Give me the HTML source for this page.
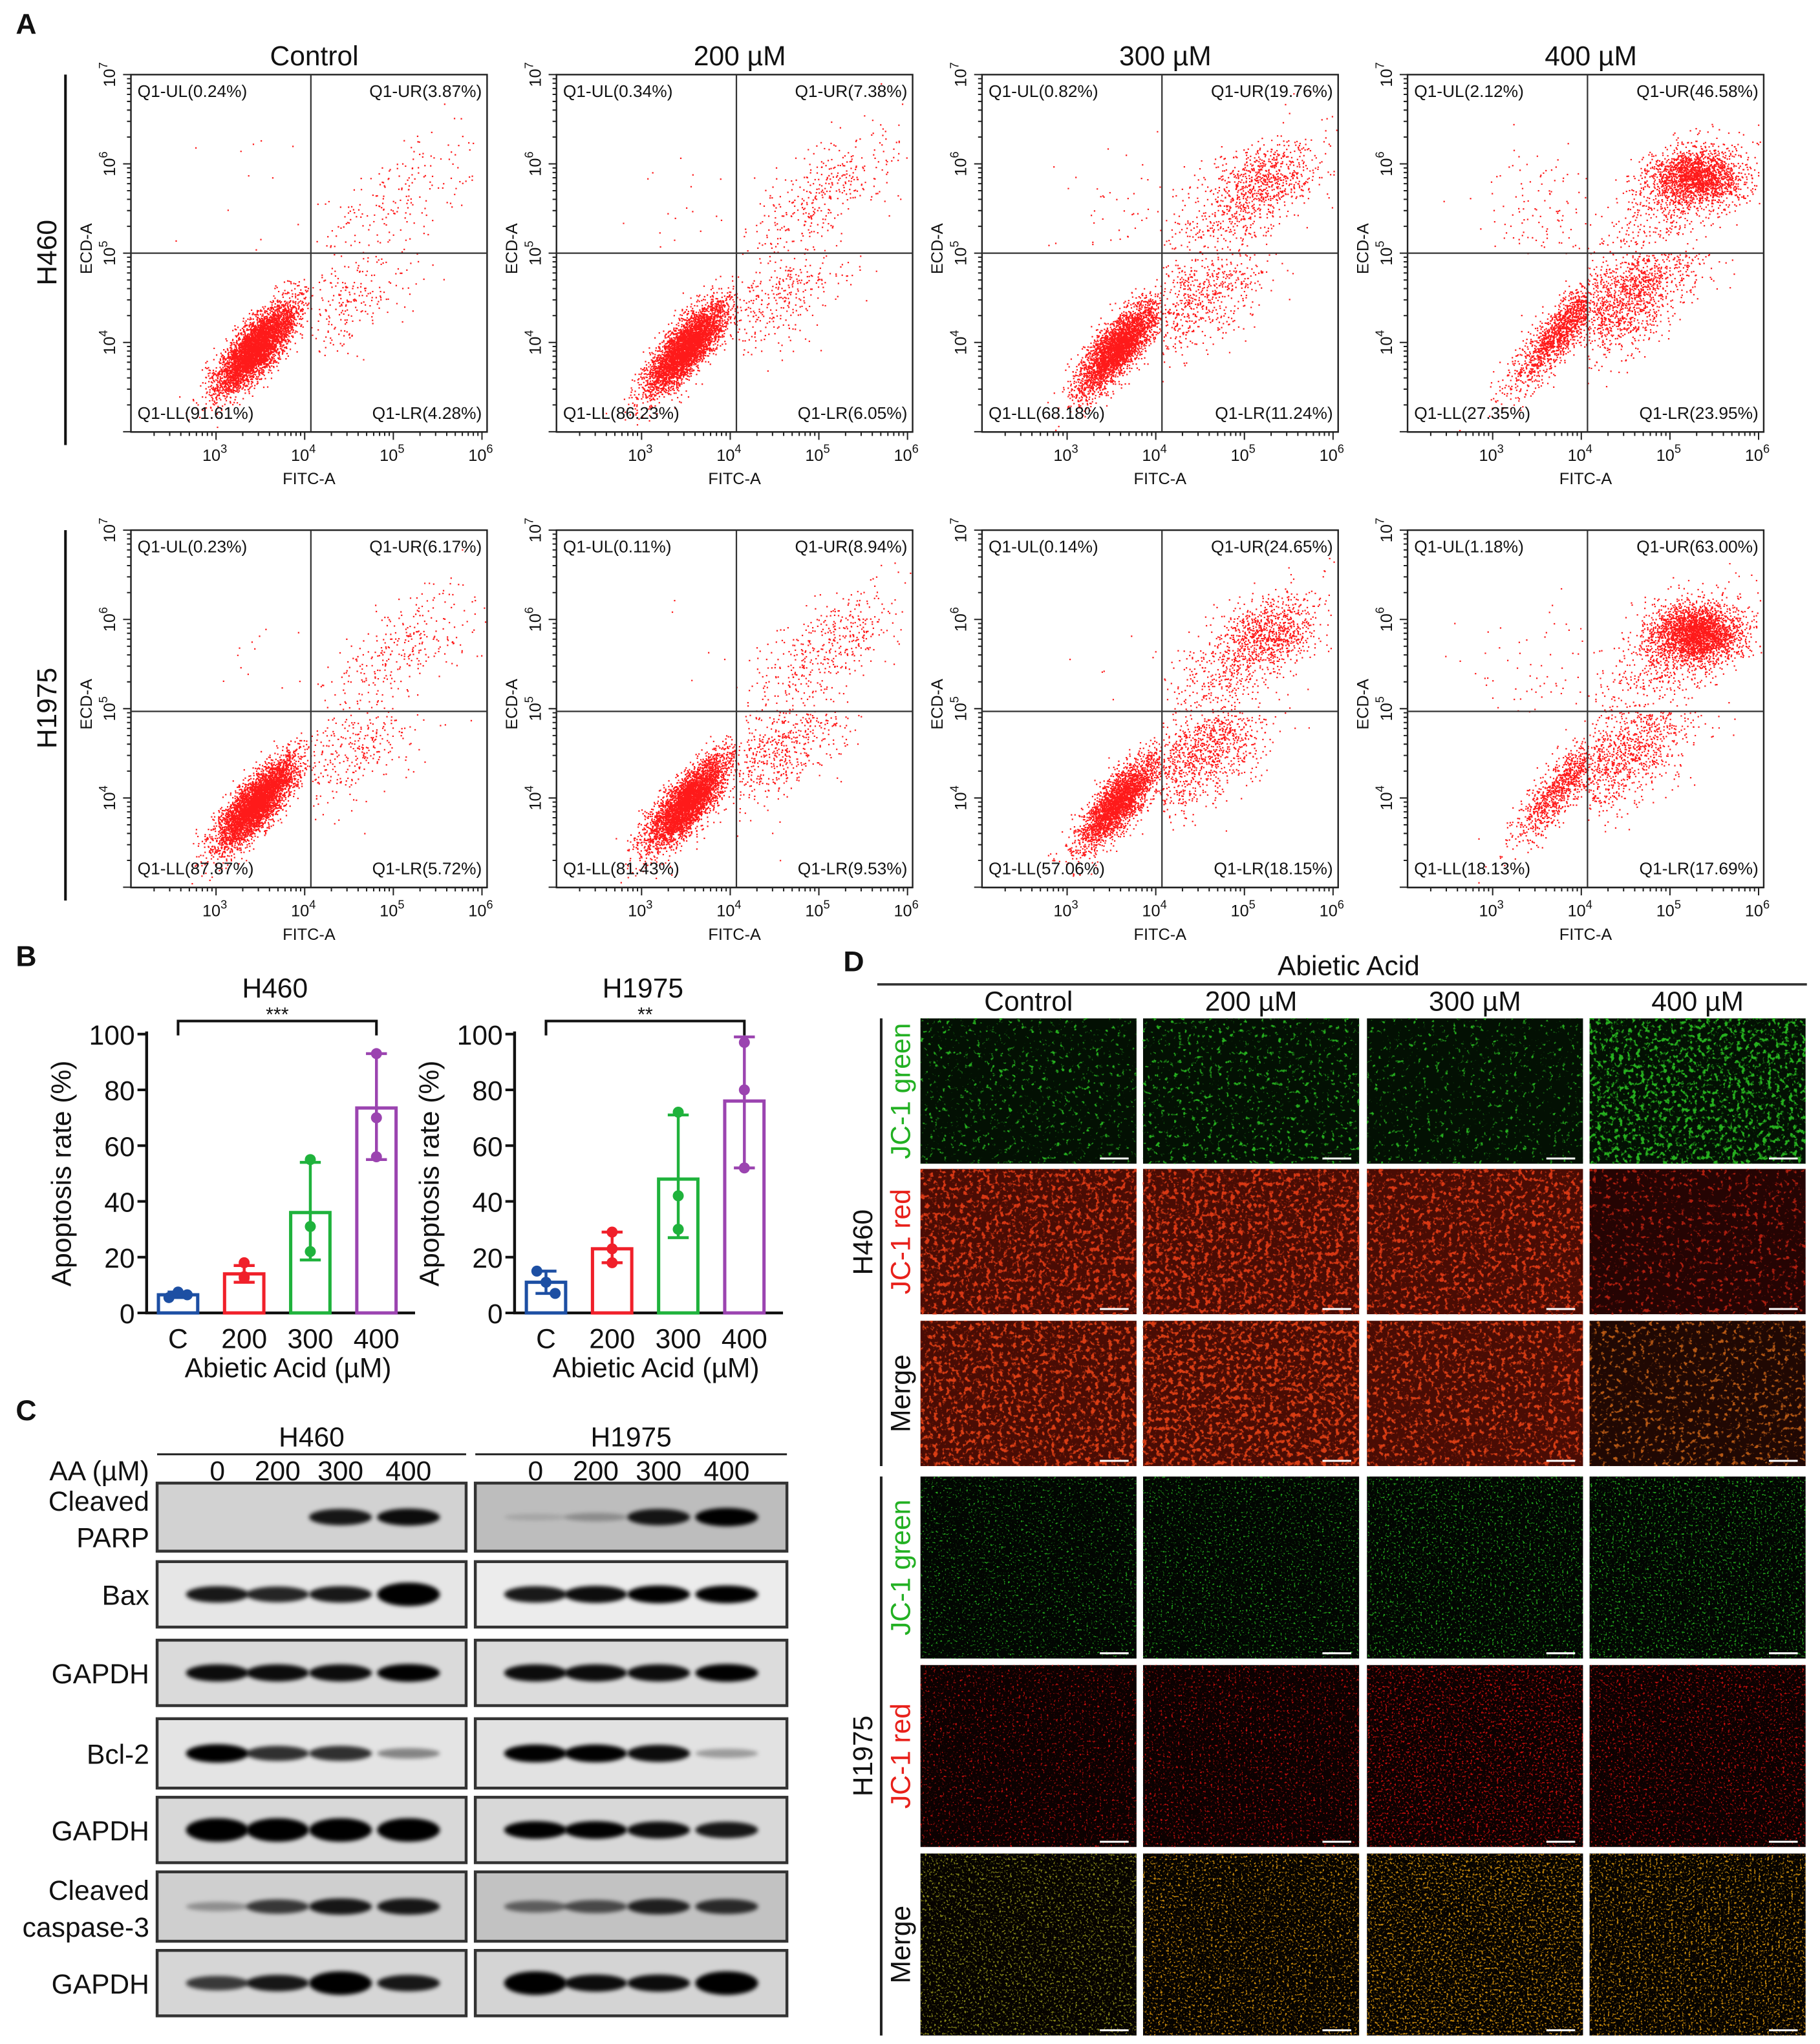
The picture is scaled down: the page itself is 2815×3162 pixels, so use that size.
<!DOCTYPE html>
<html><head><meta charset="utf-8">
<style>
html,body{margin:0;padding:0;background:#fff;}
svg{display:block;font-family:"Liberation Sans",Arial,sans-serif;}
</style></head>
<body>
<svg id="fig" xmlns="http://www.w3.org/2000/svg" width="2815" height="3162" viewBox="0 0 1390 1561.5" preserveAspectRatio="none">
<defs>
<filter id="blurBand" x="-30%" y="-100%" width="160%" height="300%"><feGaussianBlur stdDeviation="1.6"/></filter>
</defs>
<g id="A"></g><g id="B"></g><g id="C"></g><g id="D"></g>
</svg>
<script>
// ---------- DATA ----------
const flowDoses = ["Control","200 µM","300 µM","400 µM"];
const flowLines = ["H460","H1975"];
const h460UL=[0.24,0.34,0.82,2.12], h460UR=[3.87,7.38,19.76,46.58], h460LL=[91.61,86.23,68.18,27.35], h460LR=[4.28,6.05,11.24,23.95];
const h1975UL=[0.23,0.11,0.14,1.18], h1975UR=[6.17,8.94,24.65,63.00], h1975LL=[87.87,81.43,57.06,18.13], h1975LR=[5.72,9.53,18.15,17.69];
const xTickLabels=["3","4","5","6"];
const yTickLabels=["7","6","5","4"];

const barCats=["C","200","300","400"];
const h460Mean=[6.5,14,36,73.5];
const h460Pts=[[5.5,7.5,6.5],[18,13,12.5],[55,31,22],[93,70,56]];
const h460Err=[[5.5,7.5],[11,17],[19,54],[55,93]];
const h1975Mean=[11,23,48,76];
const h1975Pts=[[15,11,7],[29,23,18],[72,42,30],[97,80,52]];
const h1975Err=[[7,15],[18,29],[27,71],[52,99]];
const yTicksB=[0,20,40,60,80,100];

const blotNames=["Cleaved PARP","Bax","GAPDH","Bcl-2","GAPDH","Cleaved caspase-3","GAPDH"];
const blotH460=[[0,0,0.85,0.9],[0.85,0.8,0.85,1],[0.9,0.9,0.9,0.95],[1,0.75,0.75,0.4],[1,1,1,1],[0.3,0.7,0.85,0.85],[0.7,0.85,1,0.85]];
const blotH1975=[[0.12,0.25,0.85,1],[0.85,0.9,0.95,0.95],[0.9,0.9,0.9,0.95],[0.95,0.95,0.9,0.3],[0.95,0.95,0.9,0.85],[0.5,0.6,0.8,0.75],[1,0.9,0.9,1]];
const laneLabels=["0","200","300","400"];

const tileRows=["JC-1 green","JC-1 red","Merge"];
const tileDensityH460=[[0.3,0.35,0.25,0.7],[0.75,0.8,0.7,0.45],[0.75,0.8,0.7,0.5]];
const tileDensityH1975=[[0.3,0.3,0.4,0.4],[0.35,0.38,0.5,0.45],[0.5,0.5,0.58,0.55]];

// ---------- helpers ----------
const NS="http://www.w3.org/2000/svg";
function mk(parent,tag,attrs,text){const e=document.createElementNS(NS,tag);for(const k in attrs)e.setAttribute(k,attrs[k]);if(text!==undefined)e.textContent=text;parent.appendChild(e);return e;}
function txt(p,x,y,s,size,anchor,extra){const a={x:x,y:y,"font-size":size,"text-anchor":anchor||"middle",fill:"#111"};if(extra)for(const k in extra)a[k]=extra[k];return mk(p,"text",a,s);}
function rng(seed){let s=seed>>>0;return()=>{s=(Math.imul(s,1664525)+1013904223)>>>0;return s/4294967296;};}

// ---------- PANEL A ----------
const gA=document.getElementById("A");
let t=txt(gA,20,26,"A",22,"middle",{"font-weight":"bold"});

const colX=[100,425,750,1075], rowY=[57,405], W=272, H=273;
flowDoses.forEach((d,i)=>{const e=txt(gA,colX[i]+140,50,d,21);});
flowLines.forEach((l,r)=>{
  const ln=mk(gA,"line",{x1:50,x2:50,y1:rowY[r],y2:rowY[r]+283,stroke:"#111","stroke-width":2});
  
  const e=txt(gA,0,0,l,21,"middle",{transform:`translate(43,${rowY[r]+136}) rotate(-90)`});
  
});
function lx2px(lx){return (lx-2.04)*67.7;}
function ly2py(ly){return (7-ly)*68.2;}
function gauss(R){let u=R()||1e-9,v=R();return Math.sqrt(-2*Math.log(u))*Math.cos(2*Math.PI*v);}
const ULs=[h460UL,h1975UL],URs=[h460UR,h1975UR],LLs=[h460LL,h1975LL],LRs=[h460LR,h1975LR];
for(let r=0;r<2;r++)for(let c=0;c<4;c++){
  const g=mk(gA,"g",{transform:`translate(${colX[c]},${rowY[r]})`});
  
  const qx=4.07, qy=r==0?5.0:4.97;
  const R=rng(1234+r*10+c);
  const N=5000; let d="";
  const fr=[LLs[r][c],LRs[r][c],URs[r][c],ULs[r][c]];
  const cx=3.45+c*0.06+(c==3?0.15:0), cy=3.95+(c==3?0.2:0), spread=c==3?0.38:0.3;
  function inQ(q,x,y){const L=x<qx,B=y<qy;if(q==0)return L&&B;if(q==1)return !L&&B;if(q==2)return !L&&!B;return L&&!B;}
  for(let q=0;q<4;q++){
    const n=Math.round(N*fr[q]/100);
    for(let k=0;k<n;k++){
      let x,y,tries=0;
      do{
        if(q==0){const tt=gauss(R)*spread,u=gauss(R)*0.11;x=cx+tt*0.7-u*0.7;y=cy+tt*0.8+u*0.7;}
        else if(q==1){x=4.5+gauss(R)*0.4;y=4.5+(x-4.5)*0.5+gauss(R)*0.28;}
        else if(q==2){if(R()<Math.min(0.8,fr[2]/60)){x=5.3+gauss(R)*0.25;y=5.85+gauss(R)*0.16;}else{x=5.0+gauss(R)*0.45;y=5.6+(x-5)*0.6+gauss(R)*0.28;}}
        else{x=3.6+gauss(R)*0.4;y=5.4+gauss(R)*0.4;}
        tries++;
      }while(!inQ(q,x,y)&&tries<30);
      const px=lx2px(x),py=ly2py(y);
      if(px<1||px>W-1||py<1||py>H-1)continue;
      d+=`M${px.toFixed(1)} ${py.toFixed(1)}h1.1v1.1h-1.1z`;
    }
  }
  const dots=mk(g,"path",{d:d,fill:"#ff1a1a"});
  
  const box=mk(g,"rect",{x:0,y:0,width:W,height:H,fill:"none",stroke:"#222","stroke-width":1.2});
  
  const vx=lx2px(qx),hy=ly2py(qy);
  const q1=mk(g,"line",{x1:vx,x2:vx,y1:0,y2:H,stroke:"#333","stroke-width":1.1});
  
  const q2=mk(g,"line",{x1:0,x2:W,y1:hy,y2:hy,stroke:"#333","stroke-width":1.1});
  
  const labs=[[`Q1-UL(${ULs[r][c].toFixed(2)}%)`,5,17,"start"],[`Q1-UR(${URs[r][c].toFixed(2)}%)`,W-4,17,"end"],[`Q1-LL(${LLs[r][c].toFixed(2)}%)`,5,H-10,"start"],[`Q1-LR(${LRs[r][c].toFixed(2)}%)`,W-4,H-10,"end"]];
  labs.forEach(L=>{const e=txt(g,L[1],L[2],L[0],13,L[3]);});
  const ax=mk(g,"line",{x1:0,x2:W,y1:H,y2:H,stroke:"#222","stroke-width":1.2});
  
  let td="";
  for(let dec=2;dec<=6;dec++){for(let m=1;m<=9;m++){const lx=dec+Math.log10(m);const p=lx2px(lx);if(p<0||p>W)continue;td+=`M${p.toFixed(1)} ${H}v${m==1?6:3}`;}}
  const tk=mk(g,"path",{d:td,stroke:"#222","stroke-width":1,fill:"none"});
  
  xTickLabels.forEach(s=>{const p=lx2px(+s);const e=mk(g,"text",{x:p-1,y:H+22,"font-size":12.5,"text-anchor":"middle",fill:"#111"});
    mk(e,"tspan",{},"10");mk(e,"tspan",{dy:-6,"font-size":9},s);
    });
  const xt=txt(g,136,H+40,"FITC-A",12.5);
  let yd="";
  for(let dec=3;dec<7;dec++){for(let m=1;m<=9;m++){const ly=dec+Math.log10(m);const p=ly2py(ly);if(p<0||p>H)continue;yd+=`M0 ${p.toFixed(1)}h${m==1?-6:-3}`;}}
  yd+=`M0 0h-6`;
  const ytk=mk(g,"path",{d:yd,stroke:"#222","stroke-width":1,fill:"none"});
  
  yTickLabels.forEach(s=>{const p=ly2py(+s);const e=mk(g,"text",{x:0,y:0,"font-size":12.5,"text-anchor":"middle",fill:"#111",transform:`translate(-12,${p}) rotate(-90)`});
    mk(e,"tspan",{},"10");mk(e,"tspan",{dy:-6,"font-size":9},s);
    });
  const yt=txt(g,0,0,"ECD-A",12.5,"middle",{transform:`translate(-30,133) rotate(-90)`});
  
}

// ---------- PANEL B ----------
const gB=document.getElementById("B");
t=txt(gB,20,738,"B",22,"middle",{"font-weight":"bold"});

const barColors=["#1d4fa3","#f0202a","#1fb23c","#9b44b0"];
function barChart(x0,title,mean,pts,err,stars,name){
  const g=mk(gB,"g",{});
  
  const y0=1003,y100=790,xEnd=x0+205;
  const ys=v=>y0-(v/100)*(y0-y100);
  const xs=i=>x0+24+i*50.5;
  const tt=txt(g,x0+98,762,title,21);
  const yax=mk(g,"line",{x1:x0,x2:x0,y1:y0,y2:y100-2,stroke:"#111","stroke-width":2.2});
  
  const xax=mk(g,"line",{x1:x0-1,x2:xEnd,y1:y0,y2:y0,stroke:"#111","stroke-width":2.2});
  
  yTicksB.forEach(v=>{const l=mk(g,"line",{x1:x0-7,x2:x0,y1:ys(v),y2:ys(v),stroke:"#111","stroke-width":2});
    
    const e=txt(g,x0-9,ys(v)+8,String(v),21,"end");});
  const yl=txt(g,0,0,"Apoptosis rate (%)",21,"middle",{transform:`translate(${x0-58},${(y0+y100)/2}) rotate(-90)`});
  
  barCats.forEach((c,i)=>{
    const bx=xs(i);
    const b=mk(g,"rect",{x:bx-15,y:ys(mean[i]),width:30,height:y0-ys(mean[i]),fill:"none",stroke:barColors[i],"stroke-width":2.5});
    
    const e=mk(g,"path",{d:`M${bx} ${ys(err[i][0])}V${ys(err[i][1])}M${bx-8} ${ys(err[i][0])}h16M${bx-8} ${ys(err[i][1])}h16`,stroke:barColors[i],"stroke-width":2.2,fill:"none"});
    
    pts[i].forEach((p,j)=>{const cc=mk(g,"circle",{cx:bx+(i==0?(j-1)*7:0),cy:ys(p),r:4.2,fill:barColors[i]});
      });
    const lb=txt(g,bx,1030,c,21);
  });
  const xl=txt(g,x0+108,1052,"Abietic Acid (µM)",21);
  const br=mk(g,"path",{d:`M${xs(0)} 791V780H${xs(3)}V791`,stroke:"#111","stroke-width":2,fill:"none"});
  
  const st=txt(g,(xs(0)+xs(3))/2,780,stars,15);
}
barChart(112,"H460",h460Mean,h460Pts,h460Err,"***","bar-chart-h460");
barChart(393,"H1975",h1975Mean,h1975Pts,h1975Err,"**","bar-chart-h1975");

// ---------- PANEL C ----------
const gC=document.getElementById("C");
t=txt(gC,20,1085,"C",22,"middle",{"font-weight":"bold"});

const blotX=[120,363], blotW=[236,238];
const blotY=[1133,1193,1253,1313,1373,1430,1490], blotH=[52,50,50,53,50,53,50];
const laneOff=[46,92,140,192];
const blotBg=["#d2d2d2","#e6e6e6","#dadada","#e4e4e4","#d8d8d8","#cfcfcf","#d6d6d6"];
const blotBg2=["#bdbdbd","#ececec","#dcdcdc","#e2e2e2","#d8d8d8","#c2c2c2","#d4d4d4"];
["H460","H1975"].forEach((n,k)=>{
  const e=txt(gC,blotX[k]+blotW[k]/2,1105,n,21);
  const l=mk(gC,"line",{x1:blotX[k],x2:blotX[k]+blotW[k],y1:1111,y2:1111,stroke:"#222","stroke-width":1.5});
  
  laneLabels.forEach((s,i)=>{const lt=txt(gC,blotX[k]+laneOff[i],1131,s,21);});
});
t=txt(gC,114,1131,"AA (µM)",21,"end");
blotNames.forEach((nm,r)=>{
  const parts=nm.startsWith("Cleaved")?["Cleaved",nm.slice(8)]:[nm];
  parts.forEach((p,j)=>{const e=txt(gC,114,blotY[r]+blotH[r]/2+8+(parts.length>1?(j==0?-13:15):0),p,21,"end");
    });
  [blotH460,blotH1975].forEach((arr,k)=>{
    const g=mk(gC,"g",{});
    
    mk(g,"rect",{x:blotX[k],y:blotY[r],width:blotW[k],height:blotH[r],fill:k==0?blotBg[r]:blotBg2[r],stroke:"#333","stroke-width":2.2});
    arr[r].forEach((v,i)=>{
      if(v<=0)return;
      const thick=4+v*10+(v>=1&&(r==1||r==4||r==6)?4:0);
      const b=mk(g,"ellipse",{cx:blotX[k]+laneOff[i],cy:blotY[r]+blotH[r]/2,rx:24,ry:thick/2,fill:"#000","fill-opacity":Math.min(1,v*1.05),filter:"url(#blurBand)"});
      
    });
  });
});

// ---------- PANEL D ----------
const gD=document.getElementById("D");
const svg=document.getElementById("fig");
const defs=svg.querySelector("defs");
t=txt(gD,652,742,"D",22,"middle",{"font-weight":"bold"});

t=txt(gD,1030,745,"Abietic Acid",21);
t=mk(gD,"line",{x1:670,x2:1380,y1:752,y2:752,stroke:"#333","stroke-width":1.8});

const tileX=[703,873,1044,1214], tileW=165;
const tileY=[[778,893,1009],[1128,1272,1416]], tileH=[111,139];
flowDoses.forEach((d,i)=>{const e=txt(gD,tileX[i]+tileW/2,772,d,21);});
const rowColor=["#22b022","#e8201a","#111"];
let fid=0;
function speckFilter(col,dens,freq,seed){
  const id="sp"+(fid++);
  const f=mk(defs,"filter",{id:id,x:0,y:0,width:1,height:1,"color-interpolation-filters":"sRGB"});
  mk(f,"feTurbulence",{type:"fractalNoise",baseFrequency:freq,numOctaves:3,seed:seed});
  const thr=0.7-dens*0.22;
  const k=7;
  mk(f,"feColorMatrix",{type:"matrix",values:`0 0 0 0 ${col[0]} 0 0 0 0 ${col[1]} 0 0 0 0 ${col[2]} ${k} 0 0 0 ${-k*thr}`});
  return id;
}
[["H460",tileDensityH460],["H1975",tileDensityH1975]].forEach(([nm,dens],b)=>{
  const ys=tileY[b][0], ye=tileY[b][2]+tileH[b];
  let e=mk(gD,"line",{x1:673,x2:673,y1:ys,y2:ye,stroke:"#222","stroke-width":2});
  
  e=txt(gD,0,0,nm,21,"middle",{transform:`translate(666,${(ys+ye)/2}) rotate(-90)`});
  
  tileRows.forEach((rn,r)=>{
    const ty=tileY[b][r];
    e=txt(gD,0,0,rn,21,"middle",{fill:rowColor[r],transform:`translate(695,${ty+tileH[b]/2}) rotate(-90)`});
    
    for(let c=0;c<4;c++){
      const dv=dens[r][c];
      let base,col;
      if(r==0){base=b==0?"#031003":"#020602";col=[0.15,0.7,0.12];}
      else if(r==1){base=b==0?(c==3?"#250403":"#4a0c04"):"#0c0101";col=b==0?(c==3?[0.7,0.12,0.06]:[0.85,0.22,0.08]):[0.8,0.06,0.05];}
      else{base=b==0?(c==3?"#200803":"#4a0c04"):"#060300";col=b==0?(c==3?[0.72,0.35,0.08]:[0.85,0.24,0.08]):(c==0?[0.55,0.55,0.1]:[0.8,0.55,0.05]);}
      const g=mk(gD,"g",{});
      
      mk(g,"rect",{x:tileX[c],y:ty,width:tileW,height:tileH[b],fill:base});
      const id=speckFilter(col,dv,b==0?0.3:0.6,7+b*20+r*5+c);
      mk(g,"rect",{x:tileX[c],y:ty,width:tileW,height:tileH[b],fill:"#000",filter:`url(#${id})`});
      const sb=mk(g,"line",{x1:tileX[c]+tileW-28,x2:tileX[c]+tileW-6,y1:ty+tileH[b]-4,y2:ty+tileH[b]-4,stroke:"#fff","stroke-width":1.5});
      
    }
  });
});
</script>
</body></html>
